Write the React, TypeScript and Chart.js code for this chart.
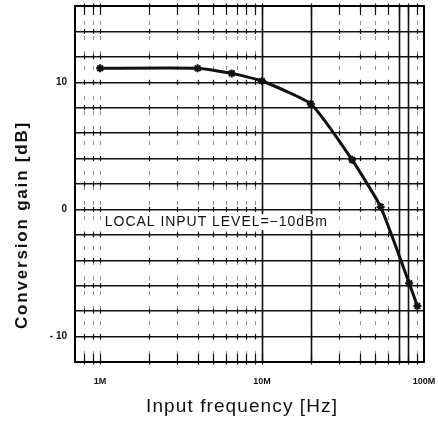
import React, { useEffect, useRef } from "react";
import { Chart, registerables } from "chart.js";

Chart.register(...registerables);

// Data
const frequencyHz = [1e6, 4e6, 6.5e6, 1e7, 2e7, 3.6e7, 5.4e7, 8.1e7, 9.1e7];
const gainDb = [11.1, 11.1, 10.7, 10.1, 8.3, 3.9, 0.2, -5.8, -7.6];

// Tick labels
const xLabelValues = [1e6, 1e7, 1e8];
const xLabelTexts = ["1M", "10M", "100M"];
const yLabelValues = [10, 0, -10];
const yLabelTexts = ["10", "0", "- 10"];

// Graph-paper grid positions (log minor lines)
const gridMultipliers = [1, 2, 3, 4, 5, 6, 7, 8, 9];
const gridDecades = [1e5, 1e6, 1e7];
const solidGridFreqs = [1e7, 2e7, 7e7, 8e7];

const X_MIN = 7e5;
const X_MAX = 1e8;
const Y_MIN = -12;
const Y_MAX = 16;

const annotationText = "LOCAL INPUT LEVEL=\u221210dBm";
const xTitle = "Input frequency [Hz]";
const yTitle = "Conversion gain [dB]";

const FONT = "'Liberation Sans', Arial, sans-serif";

function drawSpaced(
  ctx: CanvasRenderingContext2D,
  text: string,
  x: number,
  y: number,
  targetWidth: number
) {
  (ctx as any).letterSpacing = "0px";
  const w = ctx.measureText(text).width;
  const n = text.length;
  const ls = n > 1 ? (targetWidth - w) / n : 0;
  (ctx as any).letterSpacing = ls.toFixed(2) + "px";
  ctx.fillText(text, x, y);
  (ctx as any).letterSpacing = "0px";
}

const paperPlugin = {
  id: "paperGrid",
  beforeDatasetsDraw(chart: any) {
    const { ctx, chartArea, scales } = chart;
    const xs = scales.x;
    const ys = scales.y;
    const { top, bottom } = chartArea;
    ctx.save();
    const freqs: number[] = [];
    gridDecades.forEach((d) =>
      gridMultipliers.forEach((m) => {
        const f = d * m;
        if (f > X_MIN && f < X_MAX) freqs.push(f);
      })
    );
    // vertical lines
    freqs.forEach((f) => {
      const px = Math.round(xs.getPixelForValue(f)) + 0.5;
      const solid = solidGridFreqs.includes(f);
      ctx.beginPath();
      ctx.strokeStyle = solid ? "#111" : "rgba(30,30,30,0.5)";
      ctx.lineWidth = solid ? 1.6 : 1;
      ctx.setLineDash(solid ? [] : [4, 11]);
      ctx.moveTo(px, top);
      ctx.lineTo(px, bottom);
      ctx.stroke();
    });
    ctx.setLineDash([]);
    // little crosses on horizontal lines and edge ticks
    ctx.strokeStyle = "#111";
    ctx.lineWidth = 1.2;
    const yVals: number[] = [];
    for (const t of ys.ticks) yVals.push(t.value);
    freqs.forEach((f) => {
      const px = Math.round(xs.getPixelForValue(f)) + 0.5;
      yVals.forEach((v) => {
        const py = ys.getPixelForValue(v);
        ctx.beginPath();
        ctx.moveTo(px, py - 2.5);
        ctx.lineTo(px, py + 2.5);
        ctx.stroke();
      });
      ctx.beginPath();
      ctx.moveTo(px, top);
      ctx.lineTo(px, top + 9);
      ctx.moveTo(px, bottom);
      ctx.lineTo(px, bottom - 8);
      ctx.stroke();
    });
    // white box behind annotation
    const ax = xs.getPixelForValue(1.07e6);
    const ay = ys.getPixelForValue(-1.0);
    ctx.fillStyle = "#fff";
    ctx.fillRect(ax - 3, ay - 8, 229, 16);
    ctx.restore();
  },
  afterDraw(chart: any) {
    const { ctx, chartArea, scales } = chart;
    const xs = scales.x;
    const ys = scales.y;
    ctx.save();
    // frame
    ctx.strokeStyle = "#000";
    ctx.lineWidth = 2;
    ctx.strokeRect(
      chartArea.left,
      chartArea.top,
      chartArea.right - chartArea.left,
      chartArea.bottom - chartArea.top
    );
    ctx.fillStyle = "#111";
    // tick labels
    ctx.font = "bold 9px " + FONT;
    ctx.textAlign = "center";
    ctx.textBaseline = "middle";
    xLabelValues.forEach((v, i) => {
      ctx.fillText(xLabelTexts[i], xs.getPixelForValue(v), chartArea.bottom + 20);
    });
    ctx.font = "bold 10px " + FONT;
    ctx.textAlign = "right";
    yLabelValues.forEach((v, i) => {
      ctx.fillText(yLabelTexts[i], chartArea.left - 8, ys.getPixelForValue(v));
    });
    // annotation
    ctx.font = "14px " + FONT;
    ctx.textAlign = "left";
    ctx.textBaseline = "middle";
    const ax = xs.getPixelForValue(1.07e6);
    const ay = ys.getPixelForValue(-1.0);
    drawSpaced(ctx, annotationText, ax, ay, 223);
    // x title
    ctx.font = "19px " + FONT;
    drawSpaced(ctx, xTitle, 146, 407, 192);
    // y title
    ctx.translate(22, 225);
    ctx.rotate(-Math.PI / 2);
    ctx.font = "bold 17px " + FONT;
    drawSpaced(ctx, yTitle, -104, 0, 208);
    ctx.restore();
  },
};

export default function App() {
  const canvasRef = useRef<HTMLCanvasElement | null>(null);

  useEffect(() => {
    if (!canvasRef.current) return;
    const chart = new Chart(canvasRef.current, {
      type: "line",
      data: {
        datasets: [
          {
            data: frequencyHz.map((f, i) => ({ x: f, y: gainDb[i] })),
            borderColor: "#111",
            backgroundColor: "#111",
            borderWidth: 3,
            pointStyle: "star",
            pointRadius: 4,
            pointBorderWidth: 2,
            pointBorderColor: "#111",
            tension: 0.15,
            fill: false,
          },
        ],
      },
      options: {
        animation: false,
        responsive: false,
        events: [],
        layout: { padding: { left: 0, top: 6, right: 14, bottom: 0 } },
        plugins: {
          legend: { display: false },
          tooltip: { enabled: false },
          title: { display: false },
        },
        scales: {
          x: {
            type: "logarithmic",
            min: X_MIN,
            max: X_MAX,
            afterFit: (scale: any) => {
              scale.height = 59;
            },
            ticks: { display: false },
            grid: { display: false, drawTicks: false },
            border: { display: false },
          },
          y: {
            type: "linear",
            min: Y_MIN,
            max: Y_MAX,
            afterFit: (scale: any) => {
              scale.width = 75;
            },
            ticks: { display: false, stepSize: 2, autoSkip: false },
            grid: { color: "#111", lineWidth: 1.4, drawTicks: false },
            border: { display: false },
          },
        },
      },
      plugins: [paperPlugin],
    } as any);
    return () => chart.destroy();
  }, []);

  return (
    <div style={{ position: "absolute", left: 0, top: 0, width: 438, height: 421, background: "#fff" }}>
      <canvas ref={canvasRef} width={438} height={421} />
    </div>
  );
}
